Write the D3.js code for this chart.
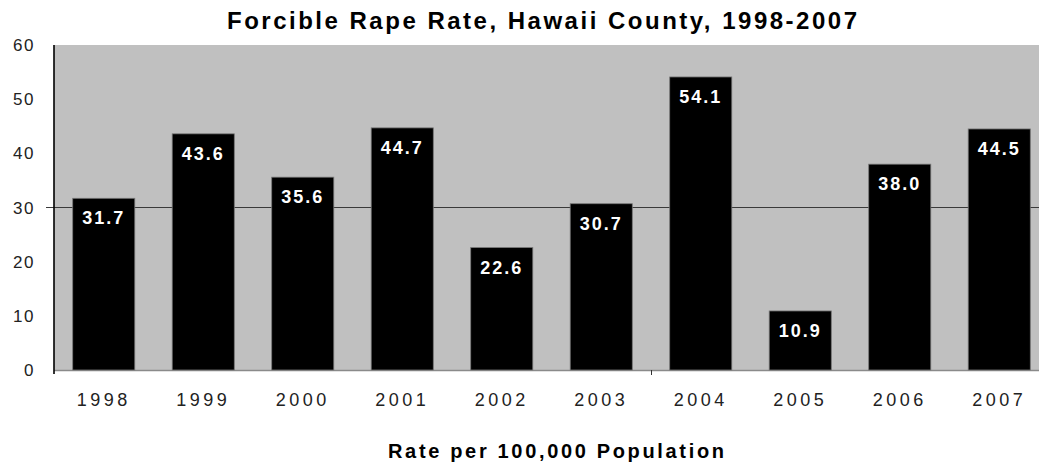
<!DOCTYPE html>
<html>
<head>
<meta charset="utf-8">
<script src="https://cdn.jsdelivr.net/npm/d3@7"></script>
<style>
html,body{margin:0;padding:0;background:#fff;}
svg{display:block;}
text{font-family:"Liberation Sans",Arial,sans-serif;}
</style>
</head>
<body>
<svg id="chart" width="1039" height="464"></svg>
<script>
const years = ["1998","1999","2000","2001","2002","2003","2004","2005","2006","2007"];
const rates = [31.7, 43.6, 35.6, 44.7, 22.6, 30.7, 54.1, 10.9, 38.0, 44.5];
const yTicks = [0, 10, 20, 30, 40, 50, 60];
const gridValues = [30];
const titleText = "Forcible Rape Rate, Hawaii County, 1998-2007";
const xTitleText = "Rate per 100,000 Population";

(function(){
const svg = d3.select("#chart");
const W = 1039;
const pLeft = 54, pRight = 1049, pTop = 45, pBottom = 370;

const x = d3.scaleBand().domain(years).range([pLeft, pRight]).paddingInner(0.376).paddingOuter(0.188);
const y = d3.scaleLinear().domain([0, 60]).range([pBottom, pTop]);

// plot background
svg.append("rect").attr("x", pLeft).attr("y", pTop).attr("width", W - pLeft).attr("height", pBottom - pTop).attr("fill", "#c0c0c0");

// gridline at 30 with tick
gridValues.forEach(v => {
  svg.append("line").attr("x1", pLeft - 8).attr("x2", W).attr("y1", y(v)).attr("y2", y(v))
    .attr("stroke", "#3a3a3a").attr("stroke-width", 1.2);
});

// bottom baseline
svg.append("line").attr("x1", pLeft).attr("x2", W).attr("y1", pBottom + 0.5).attr("y2", pBottom + 0.5)
  .attr("stroke", "#8a8a8a").attr("stroke-width", 1.5);

// bars
svg.selectAll("rect.bar").data(rates).enter().append("rect").attr("class", "bar")
  .attr("x", (d, i) => x(years[i]))
  .attr("y", d => y(d))
  .attr("width", x.bandwidth())
  .attr("height", d => y(0) - y(d))
  .attr("fill", "#000")
  .attr("stroke", "#777")
  .attr("stroke-width", 0.8);

// bar labels
svg.selectAll("text.val").data(rates).enter().append("text").attr("class", "val")
  .attr("x", (d, i) => x(years[i]) + x.bandwidth() / 2)
  .attr("y", d => y(d) + 26)
  .attr("text-anchor", "middle")
  .attr("fill", "#fff")
  .attr("font-size", 18)
  .attr("font-weight", "bold")
  .attr("letter-spacing", 2)
  .text(d => d.toFixed(1));

// left axis line
svg.append("line").attr("x1", pLeft).attr("x2", pLeft).attr("y1", pTop).attr("y2", pBottom + 4)
  .attr("stroke", "#000").attr("stroke-width", 1.6);

// a small tick on the x axis (between 2003 and 2004)
const tickX = Math.round(x("2004") - (x.step() - x.bandwidth()) / 2) + 0.5;
svg.append("line").attr("x1", tickX).attr("x2", tickX)
  .attr("y1", pBottom).attr("y2", pBottom + 5).attr("stroke", "#333").attr("stroke-width", 1);

// y tick labels
svg.selectAll("text.ytick").data(yTicks).enter().append("text").attr("class", "ytick")
  .attr("x", 35)
  .attr("y", d => y(d) + 6)
  .attr("text-anchor", "end")
  .attr("font-size", 17)
  .attr("letter-spacing", 1.5)
  .attr("fill", "#222")
  .text(d => d);

// x tick labels
svg.selectAll("text.xtick").data(years).enter().append("text").attr("class", "xtick")
  .attr("x", d => x(d) + x.bandwidth() / 2)
  .attr("y", 406)
  .attr("text-anchor", "middle")
  .attr("font-size", 18)
  .attr("letter-spacing", 3.5)
  .attr("fill", "#222")
  .text(d => d);

// title
svg.append("text").attr("x", 542).attr("y", 29).attr("text-anchor", "middle")
  .attr("font-size", 24).attr("font-weight", "bold").attr("fill", "#000")
  .attr("textLength", 630).attr("lengthAdjust", "spacing").text(titleText);

// x axis title
svg.append("text").attr("x", 556).attr("y", 458).attr("text-anchor", "middle")
  .attr("font-size", 20).attr("font-weight", "bold").attr("fill", "#000")
  .attr("textLength", 336).attr("lengthAdjust", "spacing").text(xTitleText);
})();
</script>
</body>
</html>
